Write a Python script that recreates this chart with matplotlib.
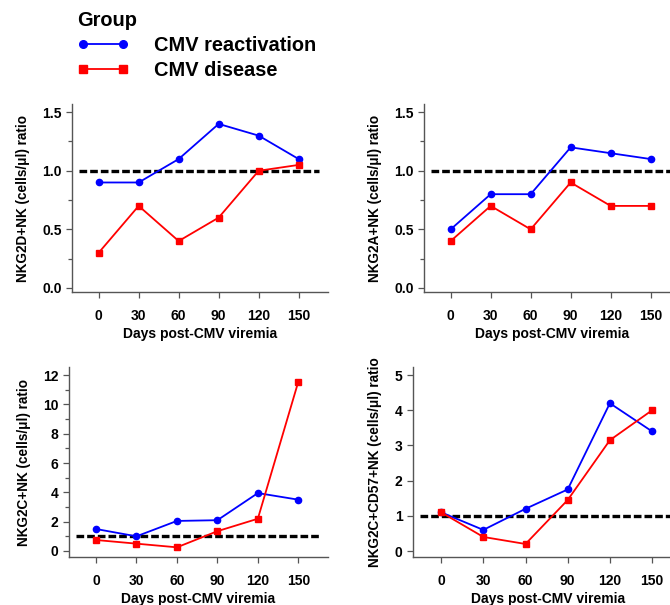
import matplotlib
matplotlib.use("Agg")
import matplotlib.pyplot as plt
from matplotlib.lines import Line2D

plt.rcParams['font.family'] = ['Liberation Sans', 'DejaVu Sans']
plt.rcParams['font.weight'] = 'bold'

days = [0, 30, 60, 90, 120, 150]
groups = ["CMV reactivation", "CMV disease"]

nkg2d_react = [0.9, 0.9, 1.1, 1.4, 1.3, 1.1]
nkg2d_disease = [0.3, 0.7, 0.4, 0.6, 1.0, 1.05]
nkg2a_react = [0.5, 0.8, 0.8, 1.2, 1.15, 1.1]
nkg2a_disease = [0.4, 0.7, 0.5, 0.9, 0.7, 0.7]
nkg2c_react = [1.5, 1.0, 2.05, 2.1, 3.95, 3.5]
nkg2c_disease = [0.75, 0.5, 0.25, 1.35, 2.2, 11.55]
cd57_react = [1.1, 0.6, 1.2, 1.75, 4.2, 3.4]
cd57_disease = [1.1, 0.4, 0.2, 1.45, 3.15, 4.0]

W, H = 670, 605
fig = plt.figure(figsize=(W / 100, H / 100), dpi=100)

SPINE = '#555555'


def make_axes(left, top, width, bottom):
    return fig.add_axes([left / W, (H - bottom) / H, width / W, (bottom - top) / H])


def panel(ax, react, disease, ylabel, ylim, yticks, minor):
    ax.plot(days, react, color='#0000ff', lw=1.3, marker='o', ms=4.5, zorder=3)
    ax.plot(days, disease, color='#ff0000', lw=1.3, marker='s', ms=4.5, zorder=3)
    ax.hlines(1, -15, 165, colors='black', lw=2.4, linestyles=(0, (2.3, 0.9)), zorder=2)
    ax.set_xlim(-20, 172)
    ax.set_ylim(*ylim)
    ax.set_xticks(days)
    ax.set_yticks(yticks)
    if minor:
        ax.set_yticks(minor, minor=True)
    ax.set_yticklabels([f"{t:.1f}" if ylim[1] < 2 else f"{t:g}" for t in yticks])
    for s in ['top', 'right']:
        ax.spines[s].set_visible(False)
    for s in ['left', 'bottom']:
        ax.spines[s].set_color(SPINE)
        ax.spines[s].set_linewidth(1.0)
    ax.tick_params(which='both', color=SPINE, width=0.9, labelsize=10)
    ax.tick_params(which='major', length=4)
    ax.tick_params(which='minor', length=3)
    ax.tick_params(axis='x', pad=8)
    ax.set_xlabel("Days post-CMV viremia", fontsize=10, fontweight='bold', labelpad=3)
    ax.set_ylabel(ylabel, fontsize=9.8, fontweight='bold', labelpad=9)


ax1 = make_axes(72, 104, 256, 292)
panel(ax1, nkg2d_react, nkg2d_disease, "NKG2D+NK (cells/μl) ratio",
      (-0.035, 1.57), [0.0, 0.5, 1.0, 1.5], [0.25, 0.75, 1.25])

ax2 = make_axes(424, 104, 256, 292)
panel(ax2, nkg2a_react, nkg2a_disease, "NKG2A+NK (cells/μl) ratio",
      (-0.035, 1.57), [0.0, 0.5, 1.0, 1.5], [0.25, 0.75, 1.25])

ax3 = make_axes(69, 367, 259, 557)
panel(ax3, nkg2c_react, nkg2c_disease, "NKG2C+NK (cells/μl) ratio",
      (-0.41, 12.55), [0, 2, 4, 6, 8, 10, 12], [1, 3, 5, 7, 9, 11])

ax4 = make_axes(413, 367, 270, 557)
panel(ax4, cd57_react, cd57_disease, "NKG2C+CD57+NK (cells/μl) ratio",
      (-0.17, 5.23), [0, 1, 2, 3, 4, 5], None)

handles = [Line2D([], [], color='#0000ff', lw=1.3, marker='o', ms=5.5),
           Line2D([], [], color='#ff0000', lw=1.3, marker='s', ms=5.5)]
fig.legend(handles, groups, title="Group", loc='upper left',
           bbox_to_anchor=(77 / W, 1 - 11 / H), frameon=False, numpoints=2,
           alignment='left', handlelength=2.6, handletextpad=1.25,
           labelspacing=0.3, borderaxespad=0, borderpad=0,
           prop={'weight': 'bold', 'size': 14.4},
           title_fontproperties={'weight': 'bold', 'size': 14.4})

fig.savefig("out.png", dpi=100)
